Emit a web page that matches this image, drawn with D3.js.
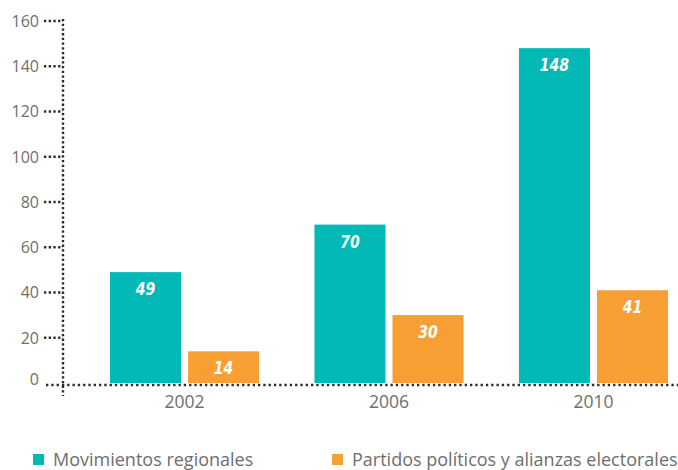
<!DOCTYPE html>
<html>
<head>
<meta charset="utf-8">
<script src="https://cdn.jsdelivr.net/npm/d3@7"></script>
<style>
  html, body { margin: 0; padding: 0; background: #fff; }
  svg { display: block; }
</style>
</head>
<body>
<svg id="chart" width="678" height="470"></svg>
<script>
const years = ["2002", "2006", "2010"];
const seriesNames = ["Movimientos regionales", "Partidos políticos y alianzas electorales"];
const movimientos = [49, 70, 148];
const partidos = [14, 30, 41];
const yTicks = [0, 20, 40, 60, 80, 100, 120, 140, 160];
const colors = ["#03b9b5", "#f89f33"];

const svg = d3.select("#chart");
const textColor = "#6e6e6e";
const dotColor = "#2b2b2b";
const font = "'Open Sans', 'Noto Sans', sans-serif";

const y = d3.scaleLinear().domain([0, 160]).range([383, 21]);
const x0 = d3.scaleBand().domain(years).range([110, 668]).paddingInner(0.271).paddingOuter(0);
const x1 = d3.scaleBand().domain([0, 1]).range([0, x0.bandwidth()]).paddingInner(0.09).paddingOuter(0);

const data = years.map((yr, i) => ({ year: yr, values: [movimientos[i], partidos[i]] }));

// y-axis vertical dotted line
svg.append("line")
  .attr("x1", 63).attr("x2", 63)
  .attr("y1", y(160) - 2).attr("y2", 396)
  .attr("stroke", dotColor).attr("stroke-width", 2.4)
  .attr("stroke-dasharray", "2.3,2.4");

// y ticks
const tg = svg.append("g");
yTicks.forEach(t => {
  if (t !== 0) {
    tg.append("line")
      .attr("x1", 44).attr("x2", 63)
      .attr("y1", y(t)).attr("y2", y(t))
      .attr("stroke", dotColor).attr("stroke-width", 2.4)
      .attr("stroke-dasharray", "2.3,2.4");
  }
  tg.append("text")
    .attr("x", 39)
    .attr("y", t === 0 ? y(t) - 4 : y(t))
    .attr("dy", "0.36em")
    .attr("text-anchor", "end")
    .attr("font-family", font)
    .attr("font-size", 16)
    .attr("fill", textColor)
    .text(t);
});

// bars
const groups = svg.append("g").selectAll("g")
  .data(data).join("g")
  .attr("transform", d => `translate(${x0(d.year)},0)`);

groups.selectAll("rect")
  .data(d => d.values.map((v, k) => ({ v, k })))
  .join("rect")
  .attr("x", d => x1(d.k))
  .attr("width", x1.bandwidth())
  .attr("y", d => y(d.v))
  .attr("height", d => y(0) - y(d.v))
  .attr("fill", d => colors[d.k]);

groups.selectAll("text.val")
  .data(d => d.values.map((v, k) => ({ v, k })))
  .join("text")
  .attr("class", "val")
  .attr("transform", d => `translate(${x1(d.k) + x1.bandwidth() / 2},${y(d.v) + 23}) scale(0.78,1)`)
  .attr("text-anchor", "middle")
  .attr("font-family", "'DejaVu Sans', sans-serif")
  .attr("font-style", "italic")
  .attr("font-weight", "bold")
  .attr("font-size", 18)
  .attr("fill", "#ffffff")
  .text(d => d.v);

// x-axis dotted line
svg.append("line")
  .attr("x1", 46).attr("x2", 678)
  .attr("y1", 385).attr("y2", 385)
  .attr("stroke", dotColor).attr("stroke-width", 2.4)
  .attr("stroke-dasharray", "2.3,3");

// x labels
svg.append("g").selectAll("text")
  .data(years).join("text")
  .attr("x", d => x0(d) + x0.bandwidth() / 2)
  .attr("y", 408)
  .attr("text-anchor", "middle")
  .attr("font-family", font)
  .attr("font-size", 17.5)
  .attr("fill", textColor)
  .text(d => d);

// legend
const legendX = [33, 332];
const lg = svg.append("g");
seriesNames.forEach((name, k) => {
  lg.append("rect")
    .attr("x", legendX[k]).attr("y", 454)
    .attr("width", 11).attr("height", 11)
    .attr("fill", colors[k]);
  lg.append("text")
    .attr("x", legendX[k] + 20).attr("y", 466)
    .attr("font-family", font)
    .attr("font-size", 18)
    .attr("fill", textColor)
    .text(name);
});
</script>
</body>
</html>
